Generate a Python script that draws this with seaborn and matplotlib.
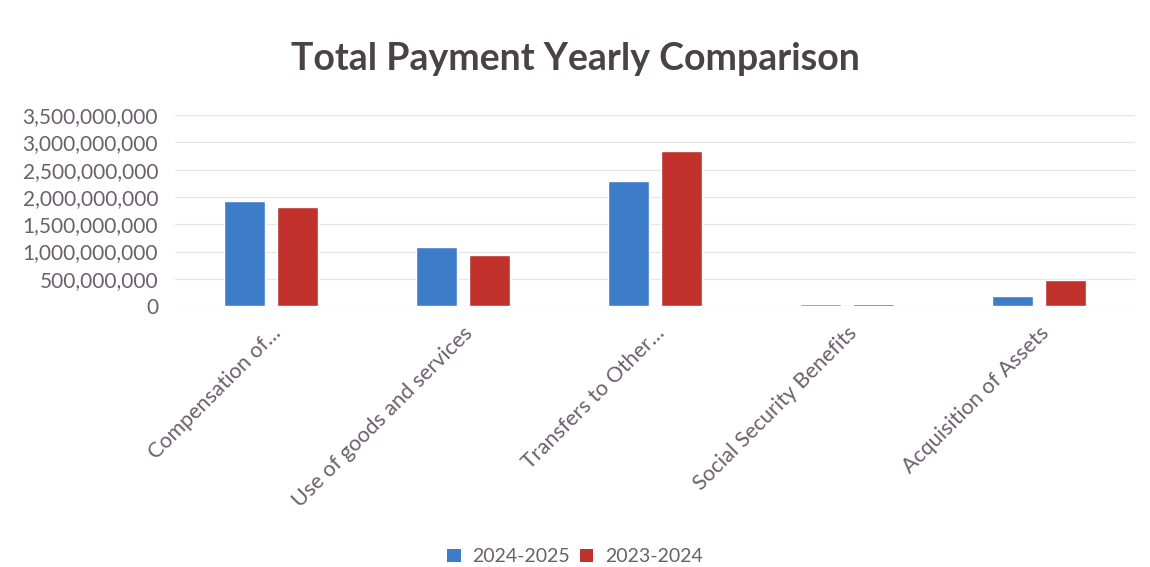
import matplotlib
matplotlib.use("Agg")
import matplotlib.pyplot as plt
import seaborn as sns
import pandas as pd
from matplotlib.ticker import FuncFormatter
from matplotlib.patches import Patch

categories = ["Compensation of\u2026", "Use of goods and services", "Transfers to Other\u2026",
              "Social Security Benefits", "Acquisition of Assets"]
series_names = ["2024-2025", "2023-2024"]
values_2024_2025 = [1920000000, 1080000000, 2300000000, 45000000, 180000000]
values_2023_2024 = [1810000000, 930000000, 2840000000, 40000000, 480000000]
y_ticks = [0, 500000000, 1000000000, 1500000000, 2000000000, 2500000000, 3000000000, 3500000000]

df = pd.DataFrame({
    "Category": categories * 2,
    "Year": [series_names[0]] * len(categories) + [series_names[1]] * len(categories),
    "Value": values_2024_2025 + values_2023_2024,
})

sns.set_theme(style="white")
plt.rcParams["font.family"] = ["Lato", "DejaVu Sans"]

fig = plt.figure(figsize=(11.5, 5.67), dpi=100)
ax = fig.add_axes([0.152, 0.46, 0.835, 0.337])

palette = {"2024-2025": "#3d7cc9", "2023-2024": "#c1312c"}
sns.barplot(data=df, x="Category", y="Value", hue="Year", palette=palette,
            width=0.55, gap=0.22, ax=ax, legend=False, saturation=1)

ax.set_ylim(0, 3500000000)
ax.set_yticks(y_ticks)
ax.yaxis.set_major_formatter(FuncFormatter(lambda v, p: f"{int(v):,}"))
ax.grid(axis="y", color="#e4e4ee", linewidth=0.9)
ax.set_axisbelow(True)
for s in ax.spines.values():
    s.set_visible(False)
ax.set_xlabel("")
ax.set_ylabel("")
ax.tick_params(axis="y", labelsize=15, colors="#6b6069", pad=12, length=0)
ax.tick_params(axis="x", labelsize=15.5, colors="#6b6069", length=0, pad=12)
plt.setp(ax.get_xticklabels(), rotation=45, ha="right", rotation_mode="anchor")

fig.text(0.5, 0.896, "Total Payment Yearly Comparison", ha="center", va="center",
         fontsize=27, fontweight="bold", color="#4a4245")

handles = [Patch(facecolor=palette[n], edgecolor="none", label=n) for n in series_names]
fig.legend(handles=handles, loc="center", bbox_to_anchor=(0.5, 0.018), ncol=2, frameon=False,
           fontsize=14, handlelength=0.7, handleheight=0.7, handletextpad=0.6, columnspacing=0.5,
           labelcolor="#6b6069")

fig.savefig("out.png", dpi=100, facecolor="white")
